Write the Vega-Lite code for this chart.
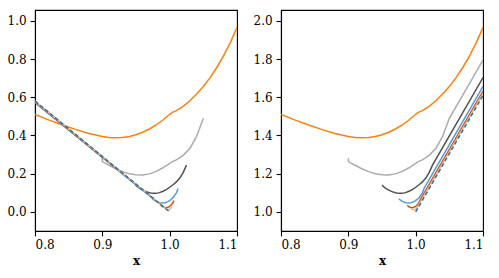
{
 "$schema": "https://vega.github.io/schema/vega-lite/v6.json",
 "padding": {"left": 6, "top": 9, "right": 5, "bottom": 5},
 "spacing": 13,
 "config": {
  "font": "DejaVu Serif",
  "view": {"stroke": "black", "strokeWidth": 1.1},
  "axis": {"labelFont": "DejaVu Serif", "labelFontSize": 12, "labelColor": "black", "tickColor": "black", "tickSize": 4.9, "tickWidth": 1.1, "labelPadding": 4, "domainColor": "black", "domainWidth": 1.1, "grid": false, "titleFont": "DejaVu Serif", "titleFontSize": 12, "titleFontWeight": "bold", "titleColor": "black", "titlePadding": 5}
 },
 "datasets": {
  "d": [
   {"p":"L","s":"e1","x":0.8,"y":0.51,"i":1},{"p":"L","s":"e1","x":0.82,"y":0.482,"i":2},{"p":"L","s":"e1","x":0.84,"y":0.456,"i":3},{"p":"L","s":"e1","x":0.86,"y":0.432,"i":4},{"p":"L","s":"e1","x":0.88,"y":0.41,"i":5},{"p":"L","s":"e1","x":0.9,"y":0.395,"i":6},{"p":"L","s":"e1","x":0.91,"y":0.39,"i":7},{"p":"L","s":"e1","x":0.92,"y":0.388,"i":8},{"p":"L","s":"e1","x":0.93,"y":0.39,"i":9},{"p":"L","s":"e1","x":0.94,"y":0.395,"i":10},{"p":"L","s":"e1","x":0.95,"y":0.404,"i":11},{"p":"L","s":"e1","x":0.96,"y":0.417,"i":12},{"p":"L","s":"e1","x":0.97,"y":0.434,"i":13},{"p":"L","s":"e1","x":0.98,"y":0.455,"i":14},{"p":"L","s":"e1","x":0.99,"y":0.481,"i":15},{"p":"L","s":"e1","x":1.0,"y":0.511,"i":16},{"p":"L","s":"e1","x":1.004,"y":0.521,"i":17},{"p":"L","s":"e1","x":1.01,"y":0.53,"i":18},{"p":"L","s":"e1","x":1.02,"y":0.553,"i":19},{"p":"L","s":"e1","x":1.03,"y":0.582,"i":20},{"p":"L","s":"e1","x":1.04,"y":0.617,"i":21},{"p":"L","s":"e1","x":1.05,"y":0.657,"i":22},{"p":"L","s":"e1","x":1.06,"y":0.703,"i":23},{"p":"L","s":"e1","x":1.07,"y":0.756,"i":24},{"p":"L","s":"e1","x":1.08,"y":0.817,"i":25},{"p":"L","s":"e1","x":1.09,"y":0.886,"i":26},{"p":"L","s":"e1","x":1.1,"y":0.965,"i":27},
   {"p":"L","s":"e2","x":0.8,"y":0.575,"i":28},{"p":"L","s":"e2","x":0.9,"y":0.288,"i":29},{"p":"L","s":"e2","x":0.9,"y":0.263,"i":30},{"p":"L","s":"e2","x":0.91,"y":0.244,"i":31},{"p":"L","s":"e2","x":0.92,"y":0.226,"i":32},{"p":"L","s":"e2","x":0.93,"y":0.211,"i":33},{"p":"L","s":"e2","x":0.94,"y":0.2,"i":34},{"p":"L","s":"e2","x":0.95,"y":0.194,"i":35},{"p":"L","s":"e2","x":0.96,"y":0.193,"i":36},{"p":"L","s":"e2","x":0.97,"y":0.199,"i":37},{"p":"L","s":"e2","x":0.98,"y":0.212,"i":38},{"p":"L","s":"e2","x":0.99,"y":0.231,"i":39},{"p":"L","s":"e2","x":1.0,"y":0.254,"i":40},{"p":"L","s":"e2","x":1.003,"y":0.262,"i":41},{"p":"L","s":"e2","x":1.01,"y":0.272,"i":42},{"p":"L","s":"e2","x":1.02,"y":0.296,"i":43},{"p":"L","s":"e2","x":1.03,"y":0.332,"i":44},{"p":"L","s":"e2","x":1.04,"y":0.395,"i":45},{"p":"L","s":"e2","x":1.05,"y":0.49,"i":46},
   {"p":"L","s":"e3","x":0.8,"y":0.572,"i":47},{"p":"L","s":"e3","x":0.95,"y":0.142,"i":48},{"p":"L","s":"e3","x":0.95,"y":0.137,"i":49},{"p":"L","s":"e3","x":0.955,"y":0.124,"i":50},{"p":"L","s":"e3","x":0.96,"y":0.114,"i":51},{"p":"L","s":"e3","x":0.965,"y":0.106,"i":52},{"p":"L","s":"e3","x":0.97,"y":0.1,"i":53},{"p":"L","s":"e3","x":0.975,"y":0.097,"i":54},{"p":"L","s":"e3","x":0.98,"y":0.097,"i":55},{"p":"L","s":"e3","x":0.985,"y":0.101,"i":56},{"p":"L","s":"e3","x":0.99,"y":0.108,"i":57},{"p":"L","s":"e3","x":0.995,"y":0.117,"i":58},{"p":"L","s":"e3","x":1.0,"y":0.129,"i":59},{"p":"L","s":"e3","x":1.005,"y":0.142,"i":60},{"p":"L","s":"e3","x":1.01,"y":0.157,"i":61},{"p":"L","s":"e3","x":1.015,"y":0.177,"i":62},{"p":"L","s":"e3","x":1.02,"y":0.206,"i":63},{"p":"L","s":"e3","x":1.025,"y":0.245,"i":64},
   {"p":"L","s":"e4","x":0.8,"y":0.575,"i":65},{"p":"L","s":"e4","x":0.975,"y":0.071,"i":66},{"p":"L","s":"e4","x":0.975,"y":0.066,"i":67},{"p":"L","s":"e4","x":0.98,"y":0.055,"i":68},{"p":"L","s":"e4","x":0.985,"y":0.048,"i":69},{"p":"L","s":"e4","x":0.99,"y":0.046,"i":70},{"p":"L","s":"e4","x":0.995,"y":0.05,"i":71},{"p":"L","s":"e4","x":1.0,"y":0.059,"i":72},{"p":"L","s":"e4","x":1.005,"y":0.074,"i":73},{"p":"L","s":"e4","x":1.01,"y":0.1,"i":74},{"p":"L","s":"e4","x":1.0125,"y":0.123,"i":75},
   {"p":"L","s":"e5","x":0.8,"y":0.578,"i":76},{"p":"L","s":"e5","x":0.9875,"y":0.035,"i":77},{"p":"L","s":"e5","x":0.9875,"y":0.033,"i":78},{"p":"L","s":"e5","x":0.99,"y":0.027,"i":79},{"p":"L","s":"e5","x":0.9925,"y":0.023,"i":80},{"p":"L","s":"e5","x":0.995,"y":0.022,"i":81},{"p":"L","s":"e5","x":0.9975,"y":0.024,"i":82},{"p":"L","s":"e5","x":1.0,"y":0.029,"i":83},{"p":"L","s":"e5","x":1.0025,"y":0.037,"i":84},{"p":"L","s":"e5","x":1.005,"y":0.049,"i":85},{"p":"L","s":"e5","x":1.00625,"y":0.06,"i":86},
   {"p":"L","s":"e6","x":0.8,"y":0.579,"i":87},{"p":"L","s":"e6","x":0.99375,"y":0.018,"i":88},{"p":"L","s":"e6","x":0.995,"y":0.014,"i":89},{"p":"L","s":"e6","x":0.9975,"y":0.011,"i":90},{"p":"L","s":"e6","x":1.0,"y":0.014,"i":91},{"p":"L","s":"e6","x":1.0015,"y":0.019,"i":92},{"p":"L","s":"e6","x":1.003,"y":0.028,"i":93},
   {"p":"L","s":"ex","x":0.8,"y":0.58,"i":94},{"p":"L","s":"ex","x":1.0,"y":0.0,"i":95},
   {"p":"R","s":"e1","x":0.8,"y":1.51,"i":96},{"p":"R","s":"e1","x":0.82,"y":1.482,"i":97},{"p":"R","s":"e1","x":0.84,"y":1.456,"i":98},{"p":"R","s":"e1","x":0.86,"y":1.432,"i":99},{"p":"R","s":"e1","x":0.88,"y":1.41,"i":100},{"p":"R","s":"e1","x":0.9,"y":1.395,"i":101},{"p":"R","s":"e1","x":0.91,"y":1.39,"i":102},{"p":"R","s":"e1","x":0.92,"y":1.388,"i":103},{"p":"R","s":"e1","x":0.93,"y":1.39,"i":104},{"p":"R","s":"e1","x":0.94,"y":1.395,"i":105},{"p":"R","s":"e1","x":0.95,"y":1.404,"i":106},{"p":"R","s":"e1","x":0.96,"y":1.417,"i":107},{"p":"R","s":"e1","x":0.97,"y":1.434,"i":108},{"p":"R","s":"e1","x":0.98,"y":1.455,"i":109},{"p":"R","s":"e1","x":0.99,"y":1.481,"i":110},{"p":"R","s":"e1","x":1.0,"y":1.511,"i":111},{"p":"R","s":"e1","x":1.004,"y":1.521,"i":112},{"p":"R","s":"e1","x":1.01,"y":1.53,"i":113},{"p":"R","s":"e1","x":1.02,"y":1.553,"i":114},{"p":"R","s":"e1","x":1.03,"y":1.582,"i":115},{"p":"R","s":"e1","x":1.04,"y":1.617,"i":116},{"p":"R","s":"e1","x":1.05,"y":1.657,"i":117},{"p":"R","s":"e1","x":1.06,"y":1.703,"i":118},{"p":"R","s":"e1","x":1.07,"y":1.756,"i":119},{"p":"R","s":"e1","x":1.08,"y":1.817,"i":120},{"p":"R","s":"e1","x":1.09,"y":1.886,"i":121},{"p":"R","s":"e1","x":1.1,"y":1.965,"i":122},
   {"p":"R","s":"e2","x":0.9,"y":1.281,"i":123},{"p":"R","s":"e2","x":0.9,"y":1.263,"i":124},{"p":"R","s":"e2","x":0.91,"y":1.244,"i":125},{"p":"R","s":"e2","x":0.92,"y":1.226,"i":126},{"p":"R","s":"e2","x":0.93,"y":1.211,"i":127},{"p":"R","s":"e2","x":0.94,"y":1.2,"i":128},{"p":"R","s":"e2","x":0.95,"y":1.194,"i":129},{"p":"R","s":"e2","x":0.96,"y":1.193,"i":130},{"p":"R","s":"e2","x":0.97,"y":1.199,"i":131},{"p":"R","s":"e2","x":0.98,"y":1.212,"i":132},{"p":"R","s":"e2","x":0.99,"y":1.231,"i":133},{"p":"R","s":"e2","x":1.0,"y":1.254,"i":134},{"p":"R","s":"e2","x":1.003,"y":1.262,"i":135},{"p":"R","s":"e2","x":1.01,"y":1.272,"i":136},{"p":"R","s":"e2","x":1.02,"y":1.296,"i":137},{"p":"R","s":"e2","x":1.03,"y":1.332,"i":138},{"p":"R","s":"e2","x":1.04,"y":1.395,"i":139},{"p":"R","s":"e2","x":1.05,"y":1.49,"i":140},{"p":"R","s":"e2","x":1.1,"y":1.795,"i":141},
   {"p":"R","s":"e3","x":0.95,"y":1.14,"i":142},{"p":"R","s":"e3","x":0.955,"y":1.124,"i":143},{"p":"R","s":"e3","x":0.96,"y":1.114,"i":144},{"p":"R","s":"e3","x":0.965,"y":1.106,"i":145},{"p":"R","s":"e3","x":0.97,"y":1.1,"i":146},{"p":"R","s":"e3","x":0.975,"y":1.097,"i":147},{"p":"R","s":"e3","x":0.98,"y":1.097,"i":148},{"p":"R","s":"e3","x":0.985,"y":1.101,"i":149},{"p":"R","s":"e3","x":0.99,"y":1.108,"i":150},{"p":"R","s":"e3","x":0.995,"y":1.117,"i":151},{"p":"R","s":"e3","x":1.0,"y":1.129,"i":152},{"p":"R","s":"e3","x":1.005,"y":1.142,"i":153},{"p":"R","s":"e3","x":1.01,"y":1.157,"i":154},{"p":"R","s":"e3","x":1.015,"y":1.177,"i":155},{"p":"R","s":"e3","x":1.02,"y":1.206,"i":156},{"p":"R","s":"e3","x":1.025,"y":1.245,"i":157},{"p":"R","s":"e3","x":1.1,"y":1.703,"i":158},
   {"p":"R","s":"e4","x":0.975,"y":1.068,"i":159},{"p":"R","s":"e4","x":0.98,"y":1.055,"i":160},{"p":"R","s":"e4","x":0.985,"y":1.048,"i":161},{"p":"R","s":"e4","x":0.99,"y":1.046,"i":162},{"p":"R","s":"e4","x":0.995,"y":1.05,"i":163},{"p":"R","s":"e4","x":1.0,"y":1.059,"i":164},{"p":"R","s":"e4","x":1.005,"y":1.074,"i":165},{"p":"R","s":"e4","x":1.01,"y":1.1,"i":166},{"p":"R","s":"e4","x":1.0125,"y":1.123,"i":167},{"p":"R","s":"e4","x":1.1,"y":1.657,"i":168},
   {"p":"R","s":"e5","x":0.9875,"y":1.035,"i":169},{"p":"R","s":"e5","x":0.99,"y":1.027,"i":170},{"p":"R","s":"e5","x":0.9925,"y":1.023,"i":171},{"p":"R","s":"e5","x":0.995,"y":1.022,"i":172},{"p":"R","s":"e5","x":0.9975,"y":1.024,"i":173},{"p":"R","s":"e5","x":1.0,"y":1.029,"i":174},{"p":"R","s":"e5","x":1.0025,"y":1.037,"i":175},{"p":"R","s":"e5","x":1.005,"y":1.049,"i":176},{"p":"R","s":"e5","x":1.00625,"y":1.06,"i":177},{"p":"R","s":"e5","x":1.1,"y":1.632,"i":178},
   {"p":"R","s":"e6","x":0.99375,"y":1.018,"i":179},{"p":"R","s":"e6","x":0.995,"y":1.014,"i":180},{"p":"R","s":"e6","x":0.9975,"y":1.011,"i":181},{"p":"R","s":"e6","x":1.0,"y":1.014,"i":182},{"p":"R","s":"e6","x":1.0015,"y":1.019,"i":183},{"p":"R","s":"e6","x":1.003,"y":1.028,"i":184},{"p":"R","s":"e6","x":1.1,"y":1.62,"i":185},
   {"p":"R","s":"ex","x":1.0,"y":1.0,"i":186},{"p":"R","s":"ex","x":1.1,"y":1.61,"i":187}
  ]
 },
 "hconcat": [
  {
   "width": 202, "height": 221,
   "data": {"name": "d"},
   "transform": [{"filter": "datum.p == 'L'"}],
   "layer": [
    {
     "transform": [{"filter": "datum.s != 'ex'"}],
     "mark": {"type": "line", "strokeWidth": 1.5, "clip": true},
     "encoding": {
      "x": {"field": "x", "type": "quantitative", "scale": {"domain": [0.8, 1.1], "nice": false, "zero": false}, "axis": {"values": [0.8, 0.9, 1.0, 1.1], "format": ".1f", "title": "x"}},
      "y": {"field": "y", "type": "quantitative", "scale": {"domain": [-0.1, 1.057], "nice": false, "zero": false}, "axis": {"values": [0, 0.2, 0.4, 0.6, 0.8, 1.0], "format": ".1f", "title": null}},
      "color": {"field": "s", "type": "nominal", "scale": {"domain": ["e1", "e2", "e3", "e4", "e5", "e6"], "range": ["#ff7f0e", "#ababab", "#505050", "#5b9bd5", "#d95319", "#ebb88a"]}, "legend": null},
      "order": {"field": "i", "type": "quantitative"}
     }
    },
    {
     "transform": [{"filter": "datum.s == 'ex'"}],
     "mark": {"type": "line", "strokeWidth": 1.5, "strokeDash": [4, 2.5], "color": "#1f77b4", "clip": true},
     "encoding": {
      "x": {"field": "x", "type": "quantitative"},
      "y": {"field": "y", "type": "quantitative"},
      "order": {"field": "i", "type": "quantitative"}
     }
    }
   ]
  },
  {
   "width": 202, "height": 221,
   "data": {"name": "d"},
   "transform": [{"filter": "datum.p == 'R'"}],
   "layer": [
    {
     "transform": [{"filter": "datum.s != 'ex'"}],
     "mark": {"type": "line", "strokeWidth": 1.5, "clip": true},
     "encoding": {
      "x": {"field": "x", "type": "quantitative", "scale": {"domain": [0.8, 1.1], "nice": false, "zero": false}, "axis": {"values": [0.8, 0.9, 1.0, 1.1], "format": ".1f", "title": "x"}},
      "y": {"field": "y", "type": "quantitative", "scale": {"domain": [0.9, 2.057], "nice": false, "zero": false}, "axis": {"values": [1.0, 1.2, 1.4, 1.6, 1.8, 2.0], "format": ".1f", "title": null}},
      "color": {"field": "s", "type": "nominal", "scale": {"domain": ["e1", "e2", "e3", "e4", "e5", "e6"], "range": ["#ff7f0e", "#ababab", "#505050", "#5b9bd5", "#d95319", "#ebb88a"]}, "legend": null},
      "order": {"field": "i", "type": "quantitative"}
     }
    },
    {
     "transform": [{"filter": "datum.s == 'ex'"}],
     "mark": {"type": "line", "strokeWidth": 1.5, "strokeDash": [4, 2.5], "color": "#1f77b4", "clip": true},
     "encoding": {
      "x": {"field": "x", "type": "quantitative"},
      "y": {"field": "y", "type": "quantitative"},
      "order": {"field": "i", "type": "quantitative"}
     }
    }
   ]
  }
 ]
}
